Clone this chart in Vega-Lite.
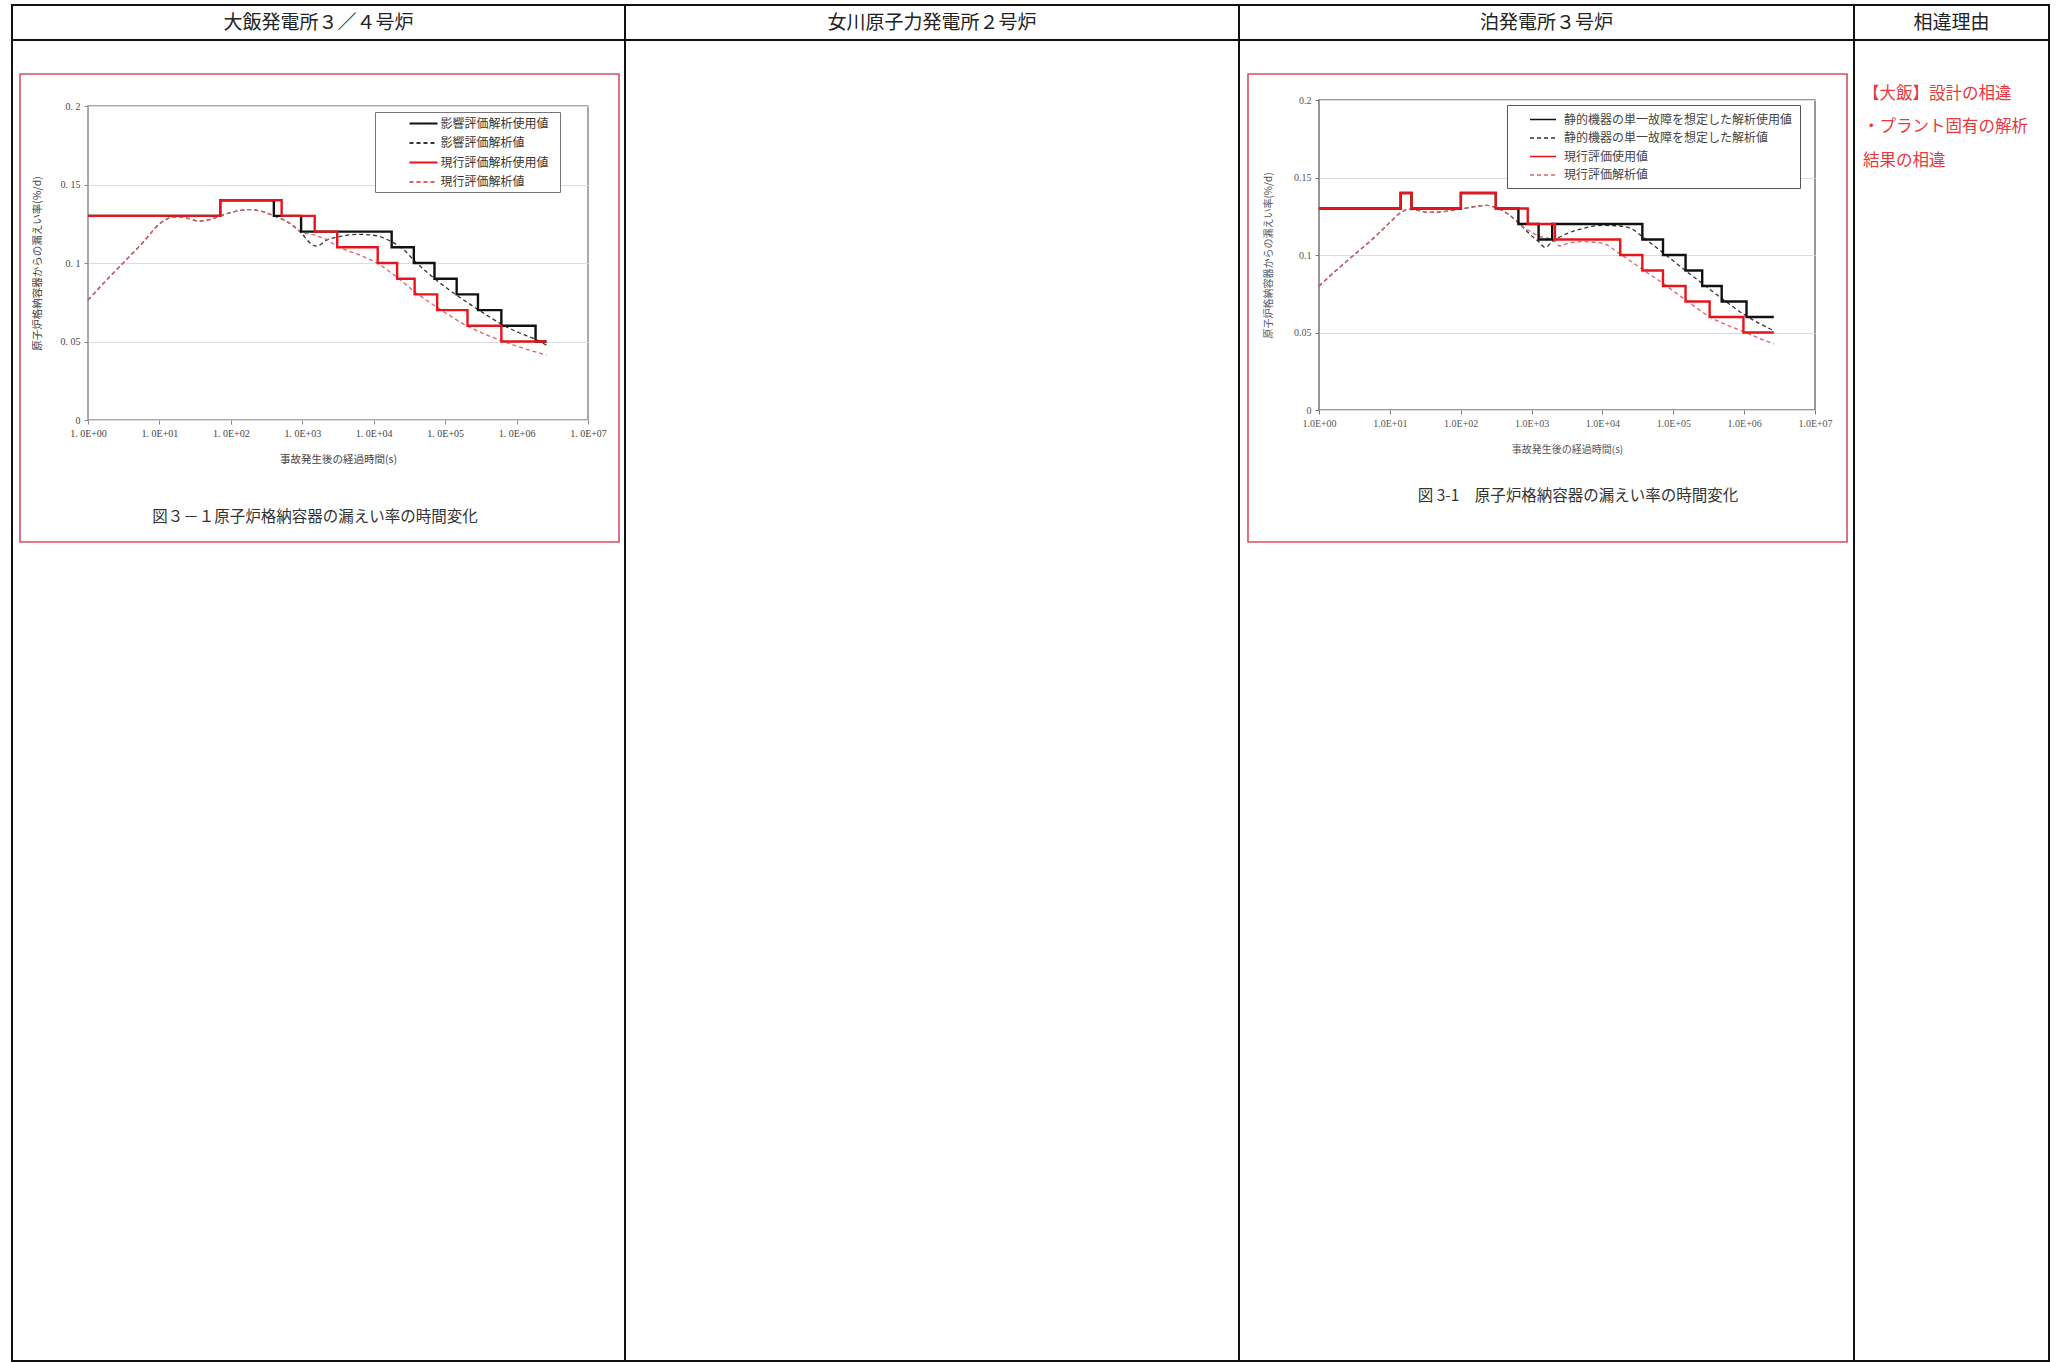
{
  "$schema": "https://vega.github.io/schema/vega-lite/v6.json",
  "background": "white",
  "padding": {"left": 11, "top": 4, "right": 0, "bottom": 0},
  "config": {
    "view": {"stroke": null},
    "font": "Noto Sans CJK JP",
    "title": {"fontWeight": "normal"}
  },
  "bounds": "flush",
  "spacing": 0,
  "resolve": {"scale": {"color": "independent", "strokeDash": "independent"}, "legend": {"color": "independent", "strokeDash": "independent"}},
  "vconcat": [
    {
      "concat": [
        {"width": 613, "height": 35, "view": {"stroke": "#111", "strokeWidth": 2}, "data": {"values": [{"h": "大飯発電所３／４号炉"}]}, "mark": {"type": "text", "fontSize": 19, "color": "#222"}, "encoding": {"text": {"field": "h"}}},
        {"width": 614, "height": 35, "view": {"stroke": "#111", "strokeWidth": 2}, "data": {"values": [{"h": "女川原子力発電所２号炉"}]}, "mark": {"type": "text", "fontSize": 19, "color": "#222"}, "encoding": {"text": {"field": "h"}}},
        {"width": 615, "height": 35, "view": {"stroke": "#111", "strokeWidth": 2}, "data": {"values": [{"h": "泊発電所３号炉"}]}, "mark": {"type": "text", "fontSize": 19, "color": "#222"}, "encoding": {"text": {"field": "h"}}},
        {"width": 195, "height": 35, "view": {"stroke": "#111", "strokeWidth": 2}, "data": {"values": [{"h": "相違理由"}]}, "mark": {"type": "text", "fontSize": 19, "color": "#222"}, "encoding": {"text": {"field": "h"}}},
        {"width": 613, "height": 1321, "view": {"stroke": "#111", "strokeWidth": 2}, "data": {"values": []}, "mark": "point"},
        {"width": 614, "height": 1321, "view": {"stroke": "#111", "strokeWidth": 2}, "data": {"values": []}, "mark": "point"},
        {"width": 615, "height": 1321, "view": {"stroke": "#111", "strokeWidth": 2}, "data": {"values": []}, "mark": "point"},
        {"width": 195, "height": 1321, "view": {"stroke": "#111", "strokeWidth": 2}, "data": {"values": []}, "mark": "point",
         "title": {"text": ["【大飯】設計の相違", "・プラント固有の解析", "結果の相違"], "orient": "top", "anchor": "start", "frame": "group", "offset": -129, "lineHeight": 33.5, "fontSize": 16.5, "color": "#e8383d", "fontWeight": "normal", "dx": 9}}
      ],
      "columns": 4, "spacing": 0, "bounds": "flush", "align": "each"
    },
    {
      "vconcat": [
        {"width": 1, "height": 69, "data": {"values": []}, "mark": "point"},
        {"hconcat": [
          {"width": 8, "height": 1, "data": {"values": []}, "mark": "point"},
          {"width": 599, "height": 468, "view": {"stroke": "#d4505f", "strokeWidth": 1.6}, "data": {"values": []}, "mark": "point"},
          {"width": 629, "height": 1, "data": {"values": []}, "mark": "point"},
          {"width": 599, "height": 468, "view": {"stroke": "#d4505f", "strokeWidth": 1.6}, "data": {"values": []}, "mark": "point"}
        ], "spacing": 0, "bounds": "flush"}
      ],
      "spacing": 0, "bounds": "flush"
    },
    {
      "vconcat": [
        {"width": 1, "height": 101, "data": {"values": []}, "mark": "point"},
        {"hconcat": [
          {"width": 76, "height": 1, "data": {"values": []}, "mark": "point"},
          {
            "width": 500, "height": 314,
            "view": {"stroke": "#8c8c8c", "strokeWidth": 1.5},
            "title": {"text": "図３－１原子炉格納容器の漏えい率の時間変化", "orient": "bottom", "offset": 45, "fontSize": 15.5, "color": "#333", "dx": -23, "anchor": "middle", "frame": "group"},
            "data": {"values": [
              {"s": "影響評価解析使用値", "t": 1, "v": 0.13}, {"s": "影響評価解析使用値", "t": 71, "v": 0.14}, {"s": "影響評価解析使用値", "t": 400, "v": 0.13}, {"s": "影響評価解析使用値", "t": 962, "v": 0.12}, {"s": "影響評価解析使用値", "t": 17840, "v": 0.11}, {"s": "影響評価解析使用値", "t": 36450, "v": 0.10}, {"s": "影響評価解析使用値", "t": 70900, "v": 0.09}, {"s": "影響評価解析使用値", "t": 145000, "v": 0.08}, {"s": "影響評価解析使用値", "t": 288000, "v": 0.07}, {"s": "影響評価解析使用値", "t": 612000, "v": 0.06}, {"s": "影響評価解析使用値", "t": 1845000, "v": 0.05}, {"s": "影響評価解析使用値", "t": 2620000, "v": 0.05},
              {"s": "現行評価解析使用値", "t": 1, "v": 0.13}, {"s": "現行評価解析使用値", "t": 71, "v": 0.14}, {"s": "現行評価解析使用値", "t": 514, "v": 0.13}, {"s": "現行評価解析使用値", "t": 1492, "v": 0.12}, {"s": "現行評価解析使用値", "t": 3085, "v": 0.11}, {"s": "現行評価解析使用値", "t": 11370, "v": 0.10}, {"s": "現行評価解析使用値", "t": 21270, "v": 0.09}, {"s": "現行評価解析使用値", "t": 37400, "v": 0.08}, {"s": "現行評価解析使用値", "t": 77300, "v": 0.07}, {"s": "現行評価解析使用値", "t": 205600, "v": 0.06}, {"s": "現行評価解析使用値", "t": 612000, "v": 0.05}, {"s": "現行評価解析使用値", "t": 2620000, "v": 0.05},
              {"s": "影響評価解析値", "t": 1, "v": 0.0764}, {"s": "影響評価解析値", "t": 1.78, "v": 0.0887}, {"s": "影響評価解析値", "t": 3.21, "v": 0.1007}, {"s": "影響評価解析値", "t": 6.0, "v": 0.1135}, {"s": "影響評価解析値", "t": 9.9, "v": 0.1247}, {"s": "影響評価解析値", "t": 16.4, "v": 0.1294}, {"s": "影響評価解析値", "t": 23.8, "v": 0.1287}, {"s": "影響評価解析値", "t": 34.7, "v": 0.1268}, {"s": "影響評価解析値", "t": 50.6, "v": 0.1277}, {"s": "影響評価解析値", "t": 71, "v": 0.130}, {"s": "影響評価解析値", "t": 107, "v": 0.1325}, {"s": "影響評価解析値", "t": 177, "v": 0.134}, {"s": "影響評価解析値", "t": 292, "v": 0.1325}, {"s": "影響評価解析値", "t": 400, "v": 0.130}, {"s": "影響評価解析値", "t": 620, "v": 0.1262},
              {"s": "影響評価解析値", "t": 962, "v": 0.1192}, {"s": "影響評価解析値", "t": 1316, "v": 0.1124}, {"s": "影響評価解析値", "t": 1590, "v": 0.1107}, {"s": "影響評価解析値", "t": 2170, "v": 0.1145}, {"s": "影響評価解析値", "t": 3590, "v": 0.1171}, {"s": "影響評価解析値", "t": 5920, "v": 0.1183}, {"s": "影響評価解析値", "t": 9770, "v": 0.1177}, {"s": "影響評価解析値", "t": 17840, "v": 0.1135}, {"s": "影響評価解析値", "t": 26640, "v": 0.1082}, {"s": "影響評価解析値", "t": 36450, "v": 0.1018}, {"s": "影響評価解析値", "t": 70900, "v": 0.0901}, {"s": "影響評価解析値", "t": 145000, "v": 0.0795}, {"s": "影響評価解析値", "t": 288000, "v": 0.0704}, {"s": "影響評価解析値", "t": 612000, "v": 0.0611}, {"s": "影響評価解析値", "t": 1145000, "v": 0.0551}, {"s": "影響評価解析値", "t": 1845000, "v": 0.0513}, {"s": "影響評価解析値", "t": 2620000, "v": 0.0477},
              {"s": "現行評価解析値", "t": 1, "v": 0.0764}, {"s": "現行評価解析値", "t": 1.78, "v": 0.0887}, {"s": "現行評価解析値", "t": 3.21, "v": 0.1007}, {"s": "現行評価解析値", "t": 6.0, "v": 0.1135}, {"s": "現行評価解析値", "t": 9.9, "v": 0.1247}, {"s": "現行評価解析値", "t": 16.4, "v": 0.1294}, {"s": "現行評価解析値", "t": 23.8, "v": 0.1287}, {"s": "現行評価解析値", "t": 34.7, "v": 0.1268}, {"s": "現行評価解析値", "t": 50.6, "v": 0.1277}, {"s": "現行評価解析値", "t": 71, "v": 0.130}, {"s": "現行評価解析値", "t": 107, "v": 0.1325}, {"s": "現行評価解析値", "t": 177, "v": 0.134}, {"s": "現行評価解析値", "t": 292, "v": 0.1325}, {"s": "現行評価解析値", "t": 400, "v": 0.130}, {"s": "現行評価解析値", "t": 620, "v": 0.1262},
              {"s": "現行評価解析値", "t": 962, "v": 0.1198}, {"s": "現行評価解析値", "t": 1492, "v": 0.1177}, {"s": "現行評価解析値", "t": 2170, "v": 0.115}, {"s": "現行評価解析値", "t": 3085, "v": 0.1107}, {"s": "現行評価解析値", "t": 5920, "v": 0.1056}, {"s": "現行評価解析値", "t": 11370, "v": 0.0997}, {"s": "現行評価解析値", "t": 21270, "v": 0.0908}, {"s": "現行評価解析値", "t": 37400, "v": 0.0817}, {"s": "現行評価解析値", "t": 77300, "v": 0.0717}, {"s": "現行評価解析値", "t": 205600, "v": 0.0598}, {"s": "現行評価解析値", "t": 612000, "v": 0.0505}, {"s": "現行評価解析値", "t": 1145000, "v": 0.0462}, {"s": "現行評価解析値", "t": 2620000, "v": 0.0414}
            ]},
            "encoding": {
              "x": {"field": "t", "type": "quantitative", "title": "事故発生後の経過時間(s)",
                "scale": {"type": "log", "domain": [1, 10000000], "nice": false},
                "axis": {"values": [1, 10, 100, 1000, 10000, 100000, 1000000, 10000000], "labelExpr": "'1. 0E+0' + round(log(datum.value)/LN10)", "grid": false, "domain": false, "tickSize": 4, "tickColor": "#888", "labelFont": "Liberation Serif", "labelFontSize": 10, "labelColor": "#444", "labelPadding": 4, "labelFlush": false, "labelOverlap": false, "titleFontSize": 10.5, "titleFontWeight": "normal", "titleColor": "#444", "titlePadding": 16}},
              "y": {"field": "v", "type": "quantitative", "title": "原子炉格納容器からの漏えい率(%/d)",
                "scale": {"domain": [0, 0.2], "nice": false},
                "axis": {"values": [0, 0.05, 0.1, 0.15, 0.2], "labelExpr": "replace(format(datum.value, '~g'), '.', '. ')", "grid": true, "gridColor": "#dcdcdc", "domain": false, "tickSize": 4, "tickColor": "#888", "labelFont": "Liberation Serif", "labelFontSize": 10, "labelColor": "#444", "labelPadding": 4, "titleFontSize": 10.5, "titleFontWeight": "normal", "titleColor": "#444", "titlePadding": 18}},
              "color": {"field": "s", "type": "nominal",
                "scale": {"domain": ["影響評価解析使用値", "影響評価解析値", "現行評価解析使用値", "現行評価解析値"], "range": ["#111111", "#333333", "#e8141c", "#e0606a"]},
                "legend": {"orient": "none", "legendX": 287, "legendY": 6, "title": "\u3000", "titleOrient": "right", "titlePadding": 8, "titleFontSize": 12, "symbolType": "M-1,0H3", "symbolSize": 196, "symbolStrokeWidth": 1.8, "symbolOffset": 30, "labelOffset": 16, "labelFontSize": 12, "labelLimit": 400, "labelColor": "#333", "padding": 3.5, "rowPadding": 5.5, "strokeColor": "#777", "fillColor": "white"}},
              "strokeDash": {"field": "s", "type": "nominal",
                "scale": {"domain": ["影響評価解析使用値", "影響評価解析値", "現行評価解析使用値", "現行評価解析値"], "range": [[1, 0], [4, 3], [1, 0], [4, 3]]}}
            },
            "layer": [
              {"transform": [{"filter": "datum.s === '影響評価解析値'"}], "mark": {"type": "line", "interpolate": "monotone", "strokeWidth": 1.3}},
              {"transform": [{"filter": "datum.s === '現行評価解析値'"}], "mark": {"type": "line", "interpolate": "monotone", "strokeWidth": 1.3}},
              {"transform": [{"filter": "datum.s === '影響評価解析使用値'"}], "mark": {"type": "line", "interpolate": "step-after", "strokeWidth": 2.4}},
              {"transform": [{"filter": "datum.s === '現行評価解析使用値'"}], "mark": {"type": "line", "interpolate": "step-after", "strokeWidth": 2.4}}
            ]
          }
        ], "spacing": 0, "bounds": "flush",
        "resolve": {"scale": {"color": "independent", "strokeDash": "independent"}, "legend": {"color": "independent", "strokeDash": "independent"}}}
      ],
      "spacing": 0, "bounds": "flush",
      "resolve": {"scale": {"color": "independent", "strokeDash": "independent"}, "legend": {"color": "independent", "strokeDash": "independent"}}
    },
    {
      "vconcat": [
        {"width": 1, "height": 95, "data": {"values": []}, "mark": "point"},
        {"hconcat": [
          {"width": 1307, "height": 1, "data": {"values": []}, "mark": "point"},
          {
            "width": 496, "height": 310,
            "view": {"stroke": "#777777", "strokeWidth": 1.5},
            "title": {"text": "図 3-1　原子炉格納容器の漏えい率の時間変化", "orient": "bottom", "offset": 35, "fontSize": 15.5, "color": "#333", "dx": 11, "anchor": "middle", "frame": "group"},
            "data": {"values": [
              {"s": "静的機器の単一故障を想定した解析使用値", "t": 1, "v": 0.13}, {"s": "静的機器の単一故障を想定した解析使用値", "t": 14.2, "v": 0.14}, {"s": "静的機器の単一故障を想定した解析使用値", "t": 20.2, "v": 0.13}, {"s": "静的機器の単一故障を想定した解析使用値", "t": 100.5, "v": 0.14}, {"s": "静的機器の単一故障を想定した解析使用値", "t": 313, "v": 0.13}, {"s": "静的機器の単一故障を想定した解析使用値", "t": 652, "v": 0.12}, {"s": "静的機器の単一故障を想定した解析使用値", "t": 1257, "v": 0.11}, {"s": "静的機器の単一故障を想定した解析使用値", "t": 1955, "v": 0.12}, {"s": "静的機器の単一故障を想定した解析使用値", "t": 36600, "v": 0.11}, {"s": "静的機器の単一故障を想定した解析使用値", "t": 71600, "v": 0.10}, {"s": "静的機器の単一故障を想定した解析使用値", "t": 149000, "v": 0.09}, {"s": "静的機器の単一故障を想定した解析使用値", "t": 256000, "v": 0.08}, {"s": "静的機器の単一故障を想定した解析使用値", "t": 482000, "v": 0.07}, {"s": "静的機器の単一故障を想定した解析使用値", "t": 1080000, "v": 0.06}, {"s": "静的機器の単一故障を想定した解析使用値", "t": 2620000, "v": 0.06},
              {"s": "現行評価使用値", "t": 1, "v": 0.13}, {"s": "現行評価使用値", "t": 14.2, "v": 0.14}, {"s": "現行評価使用値", "t": 20.2, "v": 0.13}, {"s": "現行評価使用値", "t": 100.5, "v": 0.14}, {"s": "現行評価使用値", "t": 313, "v": 0.13}, {"s": "現行評価使用値", "t": 883, "v": 0.12}, {"s": "現行評価使用値", "t": 2136, "v": 0.11}, {"s": "現行評価使用値", "t": 17830, "v": 0.10}, {"s": "現行評価使用値", "t": 36600, "v": 0.09}, {"s": "現行評価使用値", "t": 71600, "v": 0.08}, {"s": "現行評価使用値", "t": 149000, "v": 0.07}, {"s": "現行評価使用値", "t": 326000, "v": 0.06}, {"s": "現行評価使用値", "t": 977000, "v": 0.05}, {"s": "現行評価使用値", "t": 2620000, "v": 0.05},
              {"s": "静的機器の単一故障を想定した解析値", "t": 1, "v": 0.080}, {"s": "静的機器の単一故障を想定した解析値", "t": 1.77, "v": 0.0903}, {"s": "静的機器の単一故障を想定した解析値", "t": 3.12, "v": 0.100}, {"s": "静的機器の単一故障を想定した解析値", "t": 5.86, "v": 0.1108}, {"s": "静的機器の単一故障を想定した解析値", "t": 9.96, "v": 0.1209}, {"s": "静的機器の単一故障を想定した解析値", "t": 14.2, "v": 0.1273}, {"s": "静的機器の単一故障を想定した解析値", "t": 18.3, "v": 0.1295}, {"s": "静的機器の単一故障を想定した解析値", "t": 23.5, "v": 0.129}, {"s": "静的機器の単一故障を想定した解析値", "t": 34.4, "v": 0.1275}, {"s": "静的機器の単一故障を想定した解析値", "t": 57, "v": 0.128}, {"s": "静的機器の単一故障を想定した解析値", "t": 100, "v": 0.1297}, {"s": "静的機器の単一故障を想定した解析値", "t": 156, "v": 0.1312}, {"s": "静的機器の単一故障を想定した解析値", "t": 228, "v": 0.132}, {"s": "静的機器の単一故障を想定した解析値", "t": 313, "v": 0.1305}, {"s": "静的機器の単一故障を想定した解析値", "t": 487, "v": 0.1258},
              {"s": "静的機器の単一故障を想定した解析値", "t": 652, "v": 0.1209}, {"s": "静的機器の単一故障を想定した解析値", "t": 916, "v": 0.114}, {"s": "静的機器の単一故障を想定した解析値", "t": 1257, "v": 0.1086}, {"s": "静的機器の単一故障を想定した解析値", "t": 1560, "v": 0.1049}, {"s": "静的機器の単一故障を想定した解析値", "t": 1955, "v": 0.1086}, {"s": "静的機器の単一故障を想定した解析値", "t": 2860, "v": 0.1129}, {"s": "静的機器の単一故障を想定した解析値", "t": 5370, "v": 0.1172}, {"s": "静的機器の単一故障を想定した解析値", "t": 10100, "v": 0.1191}, {"s": "静的機器の単一故障を想定した解析値", "t": 17830, "v": 0.1187}, {"s": "静的機器の単一故障を想定した解析値", "t": 27700, "v": 0.1161}, {"s": "静的機器の単一故障を想定した解析値", "t": 36600, "v": 0.1118}, {"s": "静的機器の単一故障を想定した解析値", "t": 71600, "v": 0.1015}, {"s": "静的機器の単一故障を想定した解析値", "t": 149000, "v": 0.0899}, {"s": "静的機器の単一故障を想定した解析値", "t": 256000, "v": 0.0817}, {"s": "静的機器の単一故障を想定した解析値", "t": 482000, "v": 0.072}, {"s": "静的機器の単一故障を想定した解析値", "t": 1080000, "v": 0.0606}, {"s": "静的機器の単一故障を想定した解析値", "t": 2620000, "v": 0.0512},
              {"s": "現行評価解析値", "t": 1, "v": 0.080}, {"s": "現行評価解析値", "t": 1.77, "v": 0.0903}, {"s": "現行評価解析値", "t": 3.12, "v": 0.100}, {"s": "現行評価解析値", "t": 5.86, "v": 0.1108}, {"s": "現行評価解析値", "t": 9.96, "v": 0.1209}, {"s": "現行評価解析値", "t": 14.2, "v": 0.1273}, {"s": "現行評価解析値", "t": 18.3, "v": 0.1295}, {"s": "現行評価解析値", "t": 23.5, "v": 0.129}, {"s": "現行評価解析値", "t": 34.4, "v": 0.1275}, {"s": "現行評価解析値", "t": 57, "v": 0.128}, {"s": "現行評価解析値", "t": 100, "v": 0.1297}, {"s": "現行評価解析値", "t": 156, "v": 0.1312}, {"s": "現行評価解析値", "t": 228, "v": 0.132}, {"s": "現行評価解析値", "t": 313, "v": 0.1305}, {"s": "現行評価解析値", "t": 487, "v": 0.1258},
              {"s": "現行評価解析値", "t": 652, "v": 0.1204}, {"s": "現行評価解析値", "t": 883, "v": 0.1161}, {"s": "現行評価解析値", "t": 1340, "v": 0.1118}, {"s": "現行評価解析値", "t": 1955, "v": 0.1101}, {"s": "現行評価解析値", "t": 2520, "v": 0.1058}, {"s": "現行評価解析値", "t": 3240, "v": 0.1075}, {"s": "現行評価解析値", "t": 5370, "v": 0.1086}, {"s": "現行評価解析値", "t": 10100, "v": 0.1075}, {"s": "現行評価解析値", "t": 17830, "v": 0.1006}, {"s": "現行評価解析値", "t": 36600, "v": 0.0908}, {"s": "現行評価解析値", "t": 71600, "v": 0.0817}, {"s": "現行評価解析値", "t": 149000, "v": 0.071}, {"s": "現行評価解析値", "t": 326000, "v": 0.0602}, {"s": "現行評価解析値", "t": 977000, "v": 0.0505}, {"s": "現行評価解析値", "t": 2620000, "v": 0.0426}
            ]},
            "encoding": {
              "x": {"field": "t", "type": "quantitative", "title": "事故発生後の経過時間(s)",
                "scale": {"type": "log", "domain": [1, 10000000], "nice": false},
                "axis": {"values": [1, 10, 100, 1000, 10000, 100000, 1000000, 10000000], "labelExpr": "'1.0E+0' + round(log(datum.value)/LN10)", "grid": false, "domain": false, "tickSize": 4, "tickColor": "#777", "labelFont": "Liberation Serif", "labelFontSize": 10, "labelColor": "#555", "labelPadding": 4, "labelFlush": false, "labelOverlap": false, "titleFontSize": 10, "titleFontWeight": "normal", "titleColor": "#555", "titlePadding": 16}},
              "y": {"field": "v", "type": "quantitative", "title": "原子炉格納容器からの漏えい率(%/d)",
                "scale": {"domain": [0, 0.2], "nice": false},
                "axis": {"values": [0, 0.05, 0.1, 0.15, 0.2], "format": "~g", "grid": true, "gridColor": "#dcdcdc", "domain": false, "tickSize": 4, "tickColor": "#777", "labelFont": "Liberation Serif", "labelFontSize": 10, "labelColor": "#555", "labelPadding": 4, "titleFontSize": 10, "titleFontWeight": "normal", "titleColor": "#555", "titlePadding": 20}},
              "color": {"field": "s", "type": "nominal",
                "scale": {"domain": ["静的機器の単一故障を想定した解析使用値", "静的機器の単一故障を想定した解析値", "現行評価使用値", "現行評価解析値"], "range": ["#111111", "#333333", "#e8141c", "#e0606a"]},
                "legend": {"orient": "none", "legendX": 188, "legendY": 5, "title": null, "symbolType": "M-1,0H3", "symbolSize": 169, "symbolStrokeWidth": 1.6, "symbolOffset": 15, "labelOffset": 20, "labelFontSize": 12, "labelLimit": 400, "labelColor": "#444", "padding": 7, "rowPadding": 4.5, "strokeColor": "#555", "fillColor": "white"}},
              "strokeDash": {"field": "s", "type": "nominal",
                "scale": {"domain": ["静的機器の単一故障を想定した解析使用値", "静的機器の単一故障を想定した解析値", "現行評価使用値", "現行評価解析値"], "range": [[1, 0], [4, 3], [1, 0], [4, 3]]}}
            },
            "layer": [
              {"transform": [{"filter": "datum.s === '静的機器の単一故障を想定した解析値'"}], "mark": {"type": "line", "interpolate": "monotone", "strokeWidth": 1.3}},
              {"transform": [{"filter": "datum.s === '現行評価解析値'"}], "mark": {"type": "line", "interpolate": "monotone", "strokeWidth": 1.3}},
              {"transform": [{"filter": "datum.s === '静的機器の単一故障を想定した解析使用値'"}], "mark": {"type": "line", "interpolate": "step-after", "strokeWidth": 2.4}},
              {"transform": [{"filter": "datum.s === '現行評価使用値'"}], "mark": {"type": "line", "interpolate": "step-after", "strokeWidth": 2.4}}
            ]
          }
        ], "spacing": 0, "bounds": "flush",
        "resolve": {"scale": {"color": "independent", "strokeDash": "independent"}, "legend": {"color": "independent", "strokeDash": "independent"}}}
      ],
      "spacing": 0, "bounds": "flush",
      "resolve": {"scale": {"color": "independent", "strokeDash": "independent"}, "legend": {"color": "independent", "strokeDash": "independent"}}
    }
  ]
}
